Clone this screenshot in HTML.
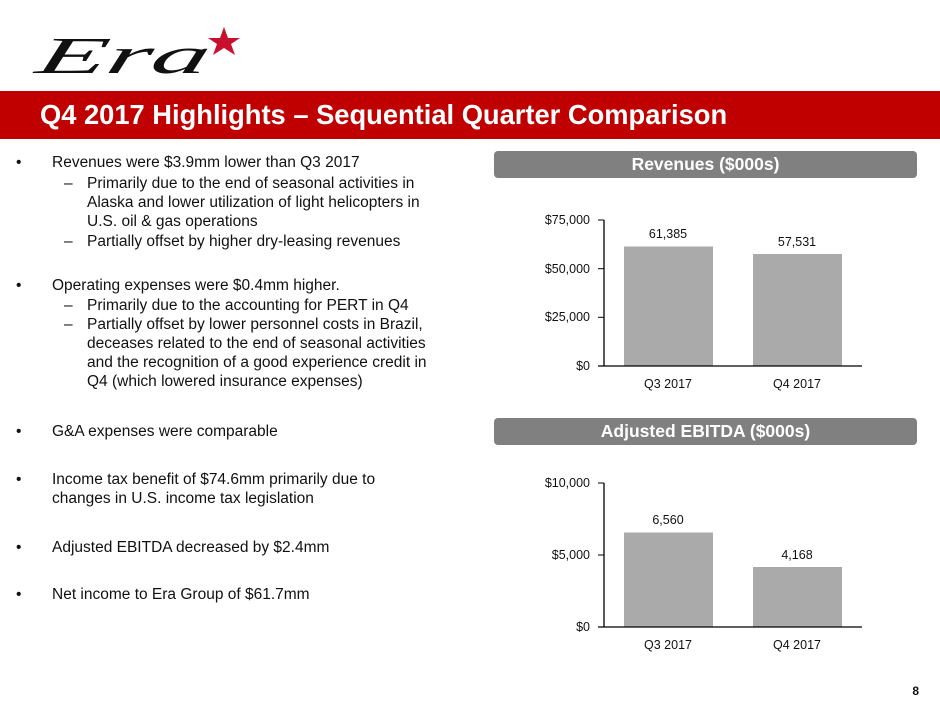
<!DOCTYPE html>
<html><head><meta charset="utf-8"><style>
body{margin:0;width:940px;height:705px;position:relative;background:#fff;font-family:"Liberation Sans",Arial,sans-serif;overflow:hidden}
.l{position:absolute;font-size:15.5px;line-height:19px;color:#111;white-space:nowrap}
.hdr{position:absolute;left:494px;width:423px;height:27px;background:#808080;border-radius:4px;color:#fff;font-weight:bold;font-size:17.5px;text-align:center;line-height:27px}
</style></head><body>
<svg width="940" height="705" style="position:absolute;left:0;top:0" font-family="Liberation Sans, Arial, sans-serif">
<text x="30" y="73" font-size="52" font-style="italic" fill="#111" font-family="Liberation Serif, serif" textLength="172" lengthAdjust="spacingAndGlyphs" transform="skewX(-14) translate(22,0)">Era</text>
<polygon points="224,27 228,38 240,38 231,44 235,55 224,48 213,55 217,44 208,38 220,38" fill="#c8102e"/>
<rect x="0" y="91" width="940" height="48" fill="#c00000"/>
<text x="40" y="124" font-size="27.3" font-weight="bold" fill="#fff">Q4 2017 Highlights – Sequential Quarter Comparison</text>
<g font-size="12.5" fill="#111">
<rect x="624" y="246.5" width="89" height="119.5" fill="#aaa"/>
<rect x="753" y="254" width="89" height="112" fill="#aaa"/>
<line x1="604" y1="220" x2="604" y2="366" stroke="#000" stroke-width="1.3"/>
<line x1="598" y1="366" x2="862" y2="366" stroke="#000" stroke-width="1.3"/>
<line x1="598" y1="220" x2="604" y2="220" stroke="#000"/>
<line x1="598" y1="268.7" x2="604" y2="268.7" stroke="#000"/>
<line x1="598" y1="317.3" x2="604" y2="317.3" stroke="#000"/>
<text x="590" y="224" text-anchor="end">$75,000</text>
<text x="590" y="273" text-anchor="end">$50,000</text>
<text x="590" y="321" text-anchor="end">$25,000</text>
<text x="590" y="370" text-anchor="end">$0</text>
<text x="668" y="238" text-anchor="middle">61,385</text>
<text x="797" y="246" text-anchor="middle">57,531</text>
<text x="668" y="388" text-anchor="middle">Q3 2017</text>
<text x="797" y="388" text-anchor="middle">Q4 2017</text>
<rect x="624" y="532.5" width="89" height="94.5" fill="#aaa"/>
<rect x="753" y="567" width="89" height="60" fill="#aaa"/>
<line x1="604" y1="483" x2="604" y2="627" stroke="#000" stroke-width="1.3"/>
<line x1="598" y1="627" x2="862" y2="627" stroke="#000" stroke-width="1.3"/>
<line x1="598" y1="483" x2="604" y2="483" stroke="#000"/>
<line x1="598" y1="555" x2="604" y2="555" stroke="#000"/>
<text x="590" y="487" text-anchor="end">$10,000</text>
<text x="590" y="559" text-anchor="end">$5,000</text>
<text x="590" y="631" text-anchor="end">$0</text>
<text x="668" y="524" text-anchor="middle">6,560</text>
<text x="797" y="559" text-anchor="middle">4,168</text>
<text x="668" y="649" text-anchor="middle">Q3 2017</text>
<text x="797" y="649" text-anchor="middle">Q4 2017</text>
</g>
<text x="919" y="695" font-size="12" font-weight="bold" fill="#111" text-anchor="end">8</text>
</svg>
<div class="hdr" style="top:151px">Revenues ($000s)</div>
<div class="hdr" style="top:418px">Adjusted EBITDA ($000s)</div>

<div class="l" style="left:16px;top:153px">•</div><div class="l" style="left:52px;top:153px">Revenues were $3.9mm lower than Q3 2017</div>
<div class="l" style="left:64px;top:174px">–</div><div class="l" style="left:87px;top:174px">Primarily due to the end of seasonal activities in</div>
<div class="l" style="left:87px;top:193px">Alaska and lower utilization of light helicopters in</div>
<div class="l" style="left:87px;top:212px">U.S. oil &amp; gas operations</div>
<div class="l" style="left:64px;top:232px">–</div><div class="l" style="left:87px;top:232px">Partially offset by higher dry-leasing revenues</div>

<div class="l" style="left:16px;top:276px">•</div><div class="l" style="left:52px;top:276px">Operating expenses were $0.4mm higher.</div>
<div class="l" style="left:64px;top:296px">–</div><div class="l" style="left:87px;top:296px">Primarily due to the accounting for PERT in Q4</div>
<div class="l" style="left:64px;top:315px">–</div><div class="l" style="left:87px;top:315px">Partially offset by lower personnel costs in Brazil,</div>
<div class="l" style="left:87px;top:334px">deceases related to the end of seasonal activities</div>
<div class="l" style="left:87px;top:353px">and the recognition of a good experience credit in</div>
<div class="l" style="left:87px;top:372px">Q4 (which lowered insurance expenses)</div>

<div class="l" style="left:16px;top:422px">•</div><div class="l" style="left:52px;top:422px">G&amp;A expenses were comparable</div>
<div class="l" style="left:16px;top:470px">•</div><div class="l" style="left:52px;top:470px">Income tax benefit of $74.6mm primarily due to</div>
<div class="l" style="left:52px;top:489px">changes in U.S. income tax legislation</div>
<div class="l" style="left:16px;top:538px">•</div><div class="l" style="left:52px;top:538px">Adjusted EBITDA decreased by $2.4mm</div>
<div class="l" style="left:16px;top:585px">•</div><div class="l" style="left:52px;top:585px">Net income to Era Group of $61.7mm</div>
</body></html>
